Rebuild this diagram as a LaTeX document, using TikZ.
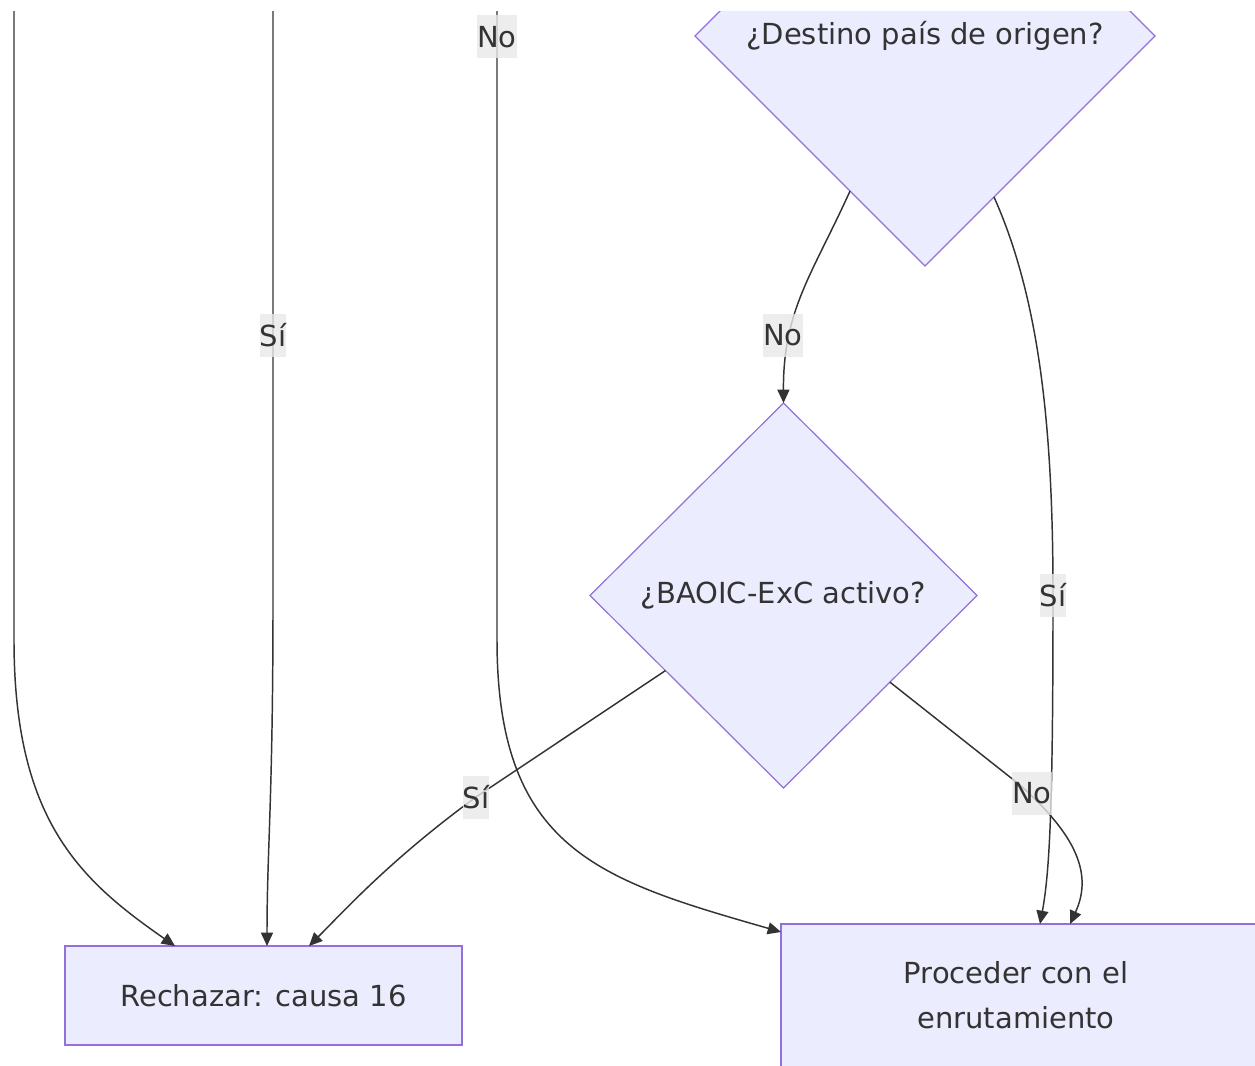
\documentclass[tikz,border=0pt]{standalone}
\usepackage{fontspec}
\setmainfont{DejaVu Sans}
\usetikzlibrary{shapes.geometric,arrows.meta,calc}
\definecolor{nodefill}{HTML}{ECECFF}
\definecolor{nodeline}{HTML}{9370DB}
\definecolor{edgecol}{HTML}{333333}
\definecolor{txt}{HTML}{333333}
\definecolor{lblbg}{HTML}{E8E8E8}
\begin{document}
\begin{tikzpicture}[x=0.75pt,y=-0.75pt,
  font=\fontsize{21.75pt}{33.75pt}\selectfont, text=txt,
  dec/.style={diamond, draw=nodeline, fill=nodefill, line width=0.9pt, inner sep=0pt, outer sep=0pt, aspect=1},
  boxn/.style={rectangle, draw=nodeline, fill=nodefill, line width=1.35pt, outer sep=0pt},
  conn/.style={draw=edgecol, line width=1.1pt, -{Triangle[length=10pt,width=9pt]}},
  lbl/.style={fill=lblbg, fill opacity=0.8, text opacity=1, inner xsep=0pt, inner ysep=0pt, minimum height=32.25pt}
]
\useasboundingbox (0,0) rectangle (1255,1066);
\begin{scope}
\clip (0,12) rectangle (1255,1066);
% nodes
\node[dec, minimum width=345pt, minimum height=345pt] (d1) at (925,36) {¿Destino país de origen?};
\node[dec, minimum width=290.25pt, minimum height=288.75pt] (d2) at (783.5,595.5) {¿BAOIC-ExC activo?};
\node[boxn, minimum width=297.75pt, minimum height=74.25pt] (r) at (263.5,995.5) {Rechazar: causa 16};
\node[boxn, minimum width=382.5pt, minimum height=132pt] (pbox) at (1036,1012) {};
\node[align=center, inner sep=0pt] (ptext) at (1016,995) {Proceder con el\\enrutamiento};
% free ends of incoming connectors
\coordinate (srcA) at (14,-20);
\coordinate (srcB) at (273,-20);
\coordinate (srcC) at (497,-20);
% connectors
\draw[conn] (srcA) -- (14,640) .. controls (14,820) and (80,880) .. ($(r.north)+(-88.5,0)$);
\draw[conn] (srcB) -- (273,600) .. controls (273,800) and (267,850) .. ($(r.north)+(3.5,0)$);
\draw[conn] (srcC) -- (497,640) .. controls (497,850) and (600,880) .. ($(pbox.north west)+(0,8)$);
\draw[conn] ($(d1.west)!0.674!(d1.south)$) .. controls (812,275) and (783,310) .. (d2.north);
\draw[conn] ($(d1.east)!0.70!(d1.south)$) .. controls (1040,300) and (1053,430) .. (1053,595)
   .. controls (1053,800) and (1050,870) .. ($(pbox.north west)+(259,0)$);
\draw[conn] ($(d2.west)!0.39!(d2.south)$) -- (476,797) .. controls (390,860) and (345,910) .. ($(r.north)+(45.5,0)$);
\draw[conn] ($(d2.east)!0.45!(d2.south)$) -- (1020,785) .. controls (1070,830) and (1095,870) .. ($(pbox.north west)+(289,0)$);
% labels
\node[lbl] (l1) at (497,37) {No};
\node[lbl] (l2) at (273,335) {Sí};
\node[lbl] (l3) at (783,335) {No};
\node[lbl] (l4) at (1053,595) {Sí};
\node[lbl] (l5) at (476,797) {Sí};
\node[lbl] (l6) at (1032,793) {No};
\end{scope}
\end{tikzpicture}
\end{document}
